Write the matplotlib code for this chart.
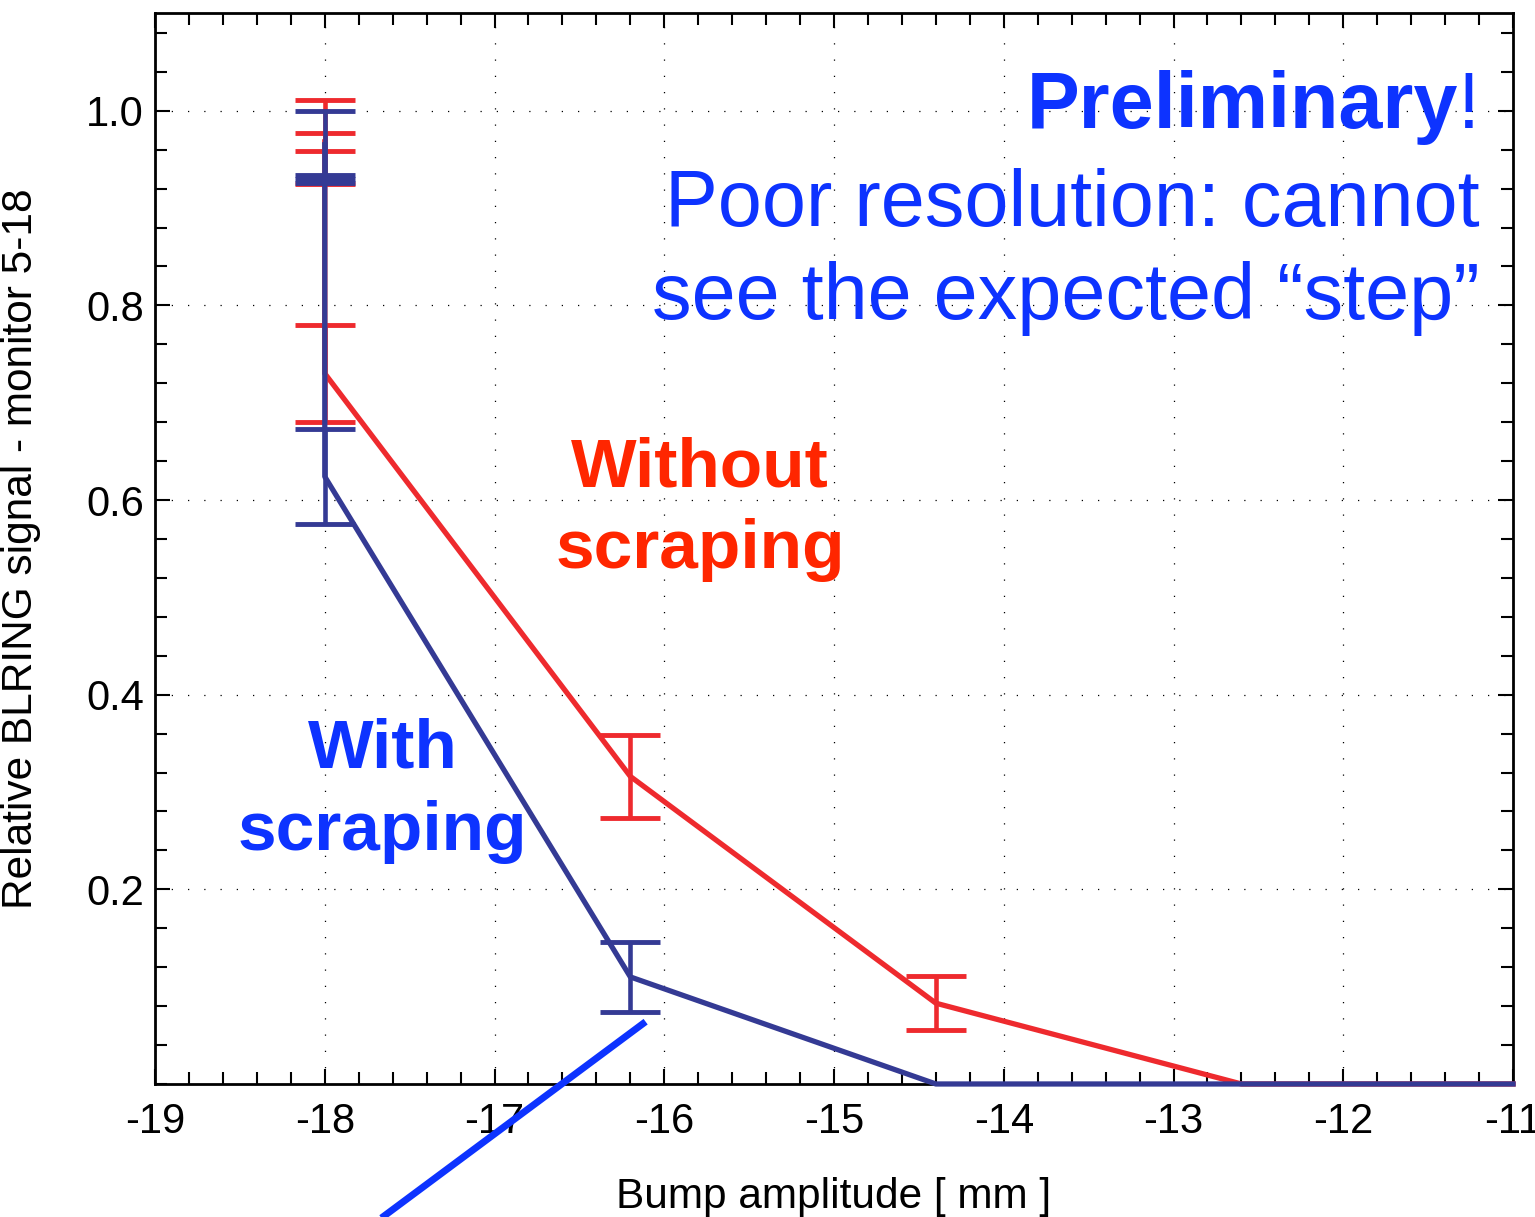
import matplotlib
matplotlib.use("Agg")
import matplotlib.pyplot as plt
import numpy as np
from matplotlib.ticker import MultipleLocator

plt.rcParams["font.family"] = ["Liberation Sans", "DejaVu Sans"]

# ── Data ─────────────────────────────────────────────────────────────────────
# "Without scraping" (red): several repeated measurements at -18 mm
red_x = [-18.0, -18.0, -18.0, -16.2, -14.4, -12.6, -11.0]
red_y = [0.968, 0.968, 0.730, 0.316, 0.083, 0.0, 0.0]
red_err = [0.043, 0.009, 0.050, 0.043, 0.028, np.nan, np.nan]

# "With scraping" (navy)
navy_x = [-18.0, -18.0, -18.0, -16.2, -14.4, -11.0]
navy_y = [0.965, 0.930, 0.624, 0.110, 0.0, 0.0]
navy_err = [0.035, 0.004, 0.049, 0.036, np.nan, np.nan]

# hand-drawn pointer line (data coords, runs off the bottom of the axes)
pointer_x = [-16.11, -17.80]
pointer_y = [0.064, -0.155]

x_ticks = [-19, -18, -17, -16, -15, -14, -13, -12, -11]
y_ticks = [0.2, 0.4, 0.6, 0.8, 1.0]
y_ticklabels = ["0.2", "0.4", "0.6", "0.8", "1.0"]

RED = "#ee2a2e"
NAVY = "#343a94"
TEXT_BLUE = "#0d33ff"
TEXT_RED = "#ff2600"

fig = plt.figure(figsize=(15.35, 12.17), dpi=100)
ax = fig.add_axes([0.101, 0.1093, 0.8847, 0.8797])

# ── Series ───────────────────────────────────────────────────────────────────
ax.plot(red_x, red_y, color=RED, lw=3.8, clip_on=False, zorder=3)
ax.errorbar(red_x, red_y, yerr=red_err, fmt="none", ecolor=RED,
            elinewidth=3.3, capsize=21.5, capthick=3.5, zorder=3)

ax.plot(navy_x, navy_y, color=NAVY, lw=3.8, clip_on=False, zorder=4)
ax.errorbar(navy_x, navy_y, yerr=navy_err, fmt="none", ecolor=NAVY,
            elinewidth=3.3, capsize=21.5, capthick=3.5, zorder=4)

ax.plot(pointer_x, pointer_y, color=TEXT_BLUE, lw=5, clip_on=False,
        solid_capstyle="butt", zorder=5)

# ── Axes ─────────────────────────────────────────────────────────────────────
ax.set_xlim(-19, -11)
ax.set_ylim(0, 1.1)
ax.set_xticks(x_ticks)
ax.set_xticklabels([str(t) for t in x_ticks])
ax.set_yticks(y_ticks)
ax.set_yticklabels(y_ticklabels)
ax.xaxis.set_minor_locator(MultipleLocator(0.2))
ax.yaxis.set_minor_locator(MultipleLocator(0.04))
ax.tick_params(which="both", direction="in", top=True, right=True,
               width=1.5, color="black")
ax.tick_params(which="major", length=11, labelsize=30)
ax.tick_params(axis="x", which="major", pad=13)
ax.tick_params(axis="y", which="major", pad=8)
ax.tick_params(which="minor", length=8.5)
for s in ax.spines.values():
    s.set_linewidth(2)

ax.grid(True, which="major", color="black", lw=0.9, linestyle=(0, (1, 12)))
ax.set_axisbelow(True)

ax.set_xlabel("Bump amplitude [ mm ]", fontsize=30.5)
ax.set_ylabel("Relative BLRING signal - monitor 5-18", fontsize=30.5)
ax.xaxis.set_label_coords(0.5, -0.087)
ax.yaxis.set_label_coords(-0.084, 0.5)

# ── Annotations ──────────────────────────────────────────────────────────────
excl = ax.text(-11.196, 0.9825, "!", color=TEXT_BLUE, fontsize=57,
               ha="right", va="baseline")
ax.annotate("Preliminary", xy=(0, 0), xycoords=excl, color=TEXT_BLUE,
            fontsize=57, fontweight="bold", ha="right", va="bottom")
ax.text(-11.196, 0.786, "Poor resolution: cannot\nsee the expected \u201cstep\u201d",
        color=TEXT_BLUE, fontsize=57, ha="right", va="baseline",
        linespacing=1.31)

ax.text(-15.79, 0.530, "Without\nscraping", color=TEXT_RED, fontsize=50,
        fontweight="bold", ha="center", va="baseline", linespacing=1.35)
ax.text(-17.66, 0.240, "With\nscraping", color=TEXT_BLUE, fontsize=50,
        fontweight="bold", ha="center", va="baseline", linespacing=1.38)

fig.savefig("out.png", dpi=100)
